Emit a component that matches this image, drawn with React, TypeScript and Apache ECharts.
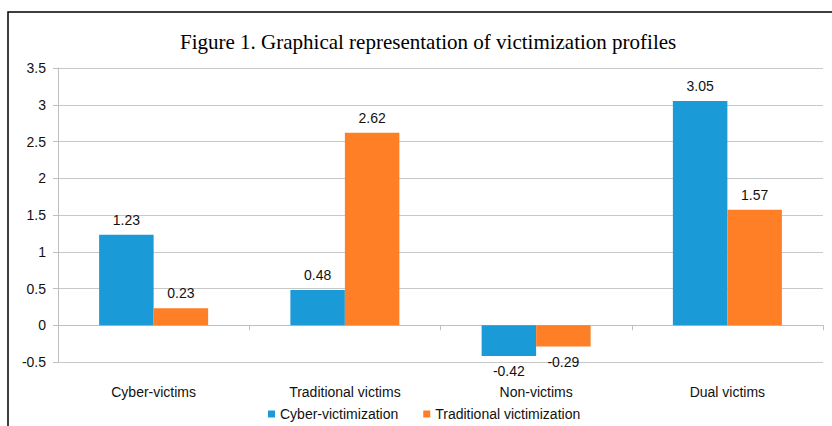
import React, { useEffect, useRef } from "react";
import * as echarts from "echarts";

const categories = ["Cyber-victims", "Traditional victims", "Non-victims", "Dual victims"];
const seriesNames = ["Cyber-victimization", "Traditional victimization"];
const cyberValues = [1.23, 0.48, -0.42, 3.05];
const traditionalValues = [0.23, 2.62, -0.29, 1.57];
const colors = ["#1A9BD7", "#FF7F27"];

const toData = (vals: number[]) =>
  vals.map((v) => ({
    value: v,
    label: { position: v < 0 ? "bottom" : "top" },
  }));

export default function App() {
  const ref = useRef<HTMLDivElement>(null);
  useEffect(() => {
    if (!ref.current) return;
    const chart = echarts.init(ref.current, null, { renderer: "svg" });
    const labelStyle = {
      show: true,
      fontFamily: "Liberation Sans, Arial, sans-serif",
      fontSize: 14,
      color: "#111",
      distance: 8,
      formatter: (p: any) => String(p.value),
    };
    chart.setOption({
      animation: false,
      backgroundColor: "#fff",
      title: {
        text: "Figure 1. Graphical representation of victimization profiles",
        left: 175,
        top: 26,
        textStyle: {
          fontFamily: "Liberation Serif, Times New Roman, serif",
          fontSize: 21,
          fontWeight: "normal",
          color: "#000",
        },
      },
      graphic: [
        {
          type: "rect",
          shape: { x: 8, y: 12, width: 900, height: 500 },
          style: { fill: "none", stroke: "#000", lineWidth: 1.5 },
          silent: true,
          z: 100,
        },
      ],
      legend: {
        data: seriesNames,
        left: 263,
        top: 402,
        icon: "rect",
        itemWidth: 7,
        itemHeight: 7,
        itemGap: 25,
        textStyle: {
          fontFamily: "Liberation Sans, Arial, sans-serif",
          fontSize: 14,
          color: "#111",
        },
      },
      grid: {
        left: 58,
        right: 9,
        top: 68,
        bottom: 64,
        containLabel: false,
        outerBoundsMode: "none",
      },
      xAxis: {
        type: "category",
        data: categories,
        axisLine: { onZero: true, lineStyle: { color: "#BFBFBF", width: 1 } },
        axisTick: { show: true, length: 5, lineStyle: { color: "#BFBFBF" } },
        axisLabel: {
          margin: 23,
          fontFamily: "Liberation Sans, Arial, sans-serif",
          fontSize: 14,
          color: "#111",
        },
      },
      yAxis: {
        type: "value",
        min: -0.5,
        max: 3.5,
        interval: 0.5,
        axisLine: { show: true, lineStyle: { color: "#BFBFBF" } },
        axisTick: { show: true, length: 5, lineStyle: { color: "#BFBFBF" } },
        splitLine: { lineStyle: { color: "#C8C8C8" } },
        axisLabel: {
          margin: 12,
          fontFamily: "Liberation Sans, Arial, sans-serif",
          fontSize: 14,
          color: "#111",
        },
      },
      series: [
        {
          name: seriesNames[0],
          type: "bar",
          data: toData(cyberValues),
          itemStyle: { color: colors[0] },
          barGap: "0%",
          barCategoryGap: "43%",
          label: labelStyle,
        },
        {
          name: seriesNames[1],
          type: "bar",
          data: toData(traditionalValues),
          itemStyle: { color: colors[1] },
          barGap: "0%",
          barCategoryGap: "43%",
          label: labelStyle,
        },
      ],
    });
    return () => chart.dispose();
  }, []);
  return (
    <div
      ref={ref}
      style={{ position: "fixed", left: 0, top: 0, width: 832, height: 426 }}
    />
  );
}
